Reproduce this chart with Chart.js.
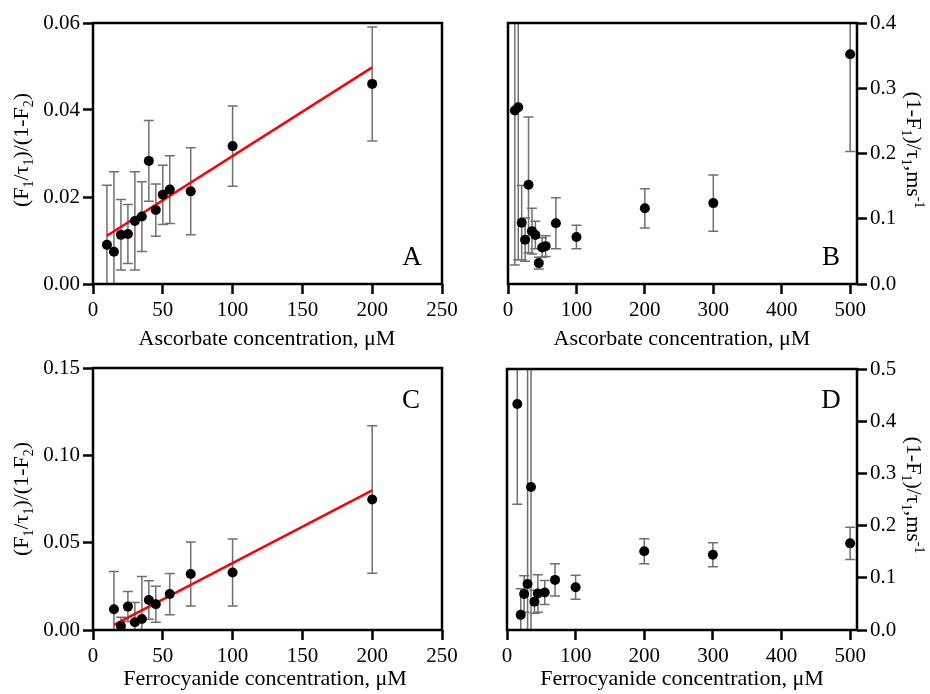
<!DOCTYPE html>
<html>
<head>
<meta charset="utf-8">
<title>Ascorbate / ferrocyanide kinetics</title>
<script src="https://cdn.jsdelivr.net/npm/chart.js@4.4.1/dist/chart.umd.min.js"></script>
<style>
    body { margin: 0; background: #fff; }
    .panel { position: absolute; }
</style>
</head>
<body>
<div class="panel" style="left:0;top:0;width:465px;height:362px"><canvas id="chartA"></canvas></div>
<div class="panel" style="left:465px;top:0;width:465px;height:362px"><canvas id="chartB"></canvas></div>
<div class="panel" style="left:0;top:347px;width:465px;height:347px"><canvas id="chartC"></canvas></div>
<div class="panel" style="left:465px;top:347px;width:465px;height:347px"><canvas id="chartD"></canvas></div>
<script>
// Panel A - ascorbate, (F1/t1)/(1-F2)
const concA = [10, 15, 20, 25, 30, 35, 40, 45, 50, 55, 70, 100, 200];
const ratioA = [0.0090, 0.0074, 0.0113, 0.0115, 0.0145, 0.0155, 0.0283, 0.0170, 0.0205, 0.0217, 0.0213, 0.0317, 0.0460];
const errA = [0.0137, 0.0184, 0.0081, 0.0068, 0.0113, 0.0080, 0.0093, 0.0060, 0.0068, 0.0078, 0.0100, 0.0092, 0.0131];
const fitConcA = [10, 200];
const fitRatioA = [0.0111, 0.0498];

// Panel B - ascorbate, (1-F1)/t1
const concB = [10, 15, 20, 25, 30, 35, 40, 45, 50, 55, 70, 100, 200, 300, 500];
const rateB = [0.266, 0.271, 0.094, 0.068, 0.152, 0.081, 0.075, 0.032, 0.056, 0.058, 0.093, 0.072, 0.116, 0.124, 0.352];
const errB = [0.237, 0.234, 0.057, 0.033, 0.104, 0.035, 0.021, 0.009, 0.015, 0.016, 0.039, 0.018, 0.030, 0.043, 0.149];

// Panel C - ferrocyanide, (F1/t1)/(1-F2)
const concC = [15, 20, 25, 30, 35, 40, 45, 55, 70, 100, 200];
const ratioC = [0.0119, 0.0023, 0.0134, 0.0044, 0.0063, 0.0172, 0.0147, 0.0206, 0.0321, 0.0329, 0.0747];
const errC = [0.0216, 0.0050, 0.0086, 0.0113, 0.0243, 0.0110, 0.0103, 0.0118, 0.0183, 0.0192, 0.0422];
const fitConcC = [15, 200];
const fitRatioC = [0.0029, 0.0799];

// Panel D - ferrocyanide, (1-F1)/t1
const concD = [15, 20, 25, 30, 35, 40, 45, 55, 70, 100, 200, 300, 500];
const rateD = [0.433, 0.029, 0.069, 0.088, 0.274, 0.054, 0.070, 0.072, 0.096, 0.082, 0.151, 0.144, 0.166];
const errD = [0.192, 0.050, 0.035, 0.450, 0.320, 0.022, 0.036, 0.023, 0.031, 0.023, 0.024, 0.023, 0.031];

// tick values
const xTicksShort = [0, 50, 100, 150, 200, 250];
const xTicksLong = [0, 100, 200, 300, 400, 500];
const yTicksA = [0, 0.02, 0.04, 0.06];
const yTicksB = [0, 0.1, 0.2, 0.3, 0.4];
const yTicksC = [0, 0.05, 0.10, 0.15];
const yTicksD = [0, 0.1, 0.2, 0.3, 0.4, 0.5];

// axis titles, split into [text, 'sub' | 'sup' | '']
const ratioTitle = [['(F', ''], ['1', 'sub'], ['/\u03c4', ''], ['1', 'sub'], [')/(1-F', ''], ['2', 'sub'], [')', '']];
const rateTitle = [['(1-F', ''], ['1', 'sub'], [')/\u03c4', ''], ['1', 'sub'], [',ms', ''], ['-1', 'sup']];
const ascTitle = [['Ascorbate concentration, \u03bcM', '']];
const ferroTitle = [['Ferrocyanide concentration, \u03bcM', '']];

const serif = "'Liberation Serif', 'Times New Roman', serif";

// writes a line of text with sub/superscripts, centred on (cx, baseline), optionally rotated
function drawRich(ctx, parts, cx, baseline, angle, size) {
    const small = Math.round(size * 0.64);
    let total = 0;
    parts.forEach(p => {
        ctx.font = (p[1] ? small : size) + 'px ' + serif;
        total += ctx.measureText(p[0]).width;
    });
    ctx.save();
    ctx.translate(cx, baseline);
    ctx.rotate(angle);
    ctx.fillStyle = '#000';
    ctx.textBaseline = 'alphabetic';
    ctx.textAlign = 'left';
    let x = -total / 2;
    parts.forEach(p => {
        ctx.font = (p[1] ? small : size) + 'px ' + serif;
        let dy = 0;
        if (p[1] === 'sub') dy = size * 0.22;
        if (p[1] === 'sup') dy = -size * 0.38;
        ctx.fillText(p[0], x, dy);
        x += ctx.measureText(p[0]).width;
    });
    ctx.restore();
}

const panelDecor = {
    id: 'panelDecor',
    // error bars go under the markers and the fit line
    beforeDatasetsDraw(chart) {
        const { ctx, chartArea, scales } = chart;
        ctx.save();
        ctx.beginPath();
        ctx.rect(chartArea.left, chartArea.top, chartArea.right - chartArea.left, chartArea.bottom - chartArea.top);
        ctx.clip();
        ctx.strokeStyle = '#707070';
        ctx.lineWidth = 1.5;
        chart.data.datasets.forEach(ds => {
            if (!ds.errors) return;
            ds.data.forEach((p, i) => {
                const x = scales.x.getPixelForValue(p.x);
                const yTop = scales.y.getPixelForValue(p.y + ds.errors[i]);
                const yBot = scales.y.getPixelForValue(p.y - ds.errors[i]);
                ctx.beginPath();
                ctx.moveTo(x, yTop);
                ctx.lineTo(x, yBot);
                ctx.moveTo(x - 5, yTop);
                ctx.lineTo(x + 5, yTop);
                ctx.moveTo(x - 5, yBot);
                ctx.lineTo(x + 5, yBot);
                ctx.stroke();
            });
        });
        ctx.restore();
    },
    afterDraw(chart, args, opts) {
        const { ctx, chartArea } = chart;
        // box around the plot
        ctx.save();
        ctx.strokeStyle = '#000';
        ctx.lineWidth = 2.5;
        ctx.strokeRect(chartArea.left, chartArea.top, chartArea.right - chartArea.left, chartArea.bottom - chartArea.top);
        ctx.restore();

        // panel letter
        ctx.save();
        ctx.font = '27px ' + serif;
        ctx.fillStyle = '#000';
        ctx.textAlign = 'center';
        ctx.textBaseline = 'alphabetic';
        ctx.fillText(opts.letter, opts.letterX, opts.letterY);
        ctx.restore();

        drawRich(ctx, opts.xTitle, opts.xTitleX, opts.xTitleY, 0, 22);
        drawRich(ctx, opts.yTitle, opts.yTitleX, opts.yTitleY, opts.yTitleAngle, 22);
    }
};

function makePanel(id, cfg) {
    const points = cfg.conc.map((c, i) => ({ x: c, y: cfg.vals[i] }));
    const datasets = [{
        type: 'scatter',
        data: points,
        errors: cfg.errs,
        pointRadius: 5,
        pointHoverRadius: 5,
        backgroundColor: '#000',
        borderWidth: 0
    }];
    if (cfg.fitConc) {
        datasets.push({
            type: 'line',
            data: cfg.fitConc.map((c, i) => ({ x: c, y: cfg.fitVals[i] })),
            borderColor: '#ff0000',
            borderWidth: 2.5,
            pointRadius: 0,
            fill: false
        });
    }

    const tickFont = { family: serif, size: 21 };

    return new Chart(document.getElementById(id), {
        type: 'scatter',
        data: { datasets: datasets },
        options: {
            responsive: true,
            maintainAspectRatio: false,
            animation: false,
            layout: { padding: cfg.padding },
            plugins: {
                legend: { display: false },
                tooltip: { enabled: false },
                panelDecor: cfg.decor
            },
            scales: {
                x: {
                    type: 'linear',
                    min: 0,
                    max: cfg.xMax,
                    afterBuildTicks: s => { s.ticks = cfg.xTicks.map(v => ({ value: v })); },
                    afterFit: s => { s.height = cfg.xHeight; },
                    ticks: {
                        font: tickFont,
                        color: '#000',
                        padding: 4,
                        maxRotation: 0,
                        autoSkip: false,
                        callback: v => String(v)
                    },
                    grid: { drawOnChartArea: false, tickLength: 10, tickWidth: 2.5, tickColor: '#000' },
                    border: { display: false }
                },
                y: {
                    type: 'linear',
                    position: cfg.yPos,
                    min: 0,
                    max: cfg.yTicks[cfg.yTicks.length - 1],
                    afterBuildTicks: s => { s.ticks = cfg.yTicks.map(v => ({ value: v })); },
                    afterFit: s => { s.width = cfg.yWidth; },
                    ticks: {
                        font: tickFont,
                        color: '#000',
                        padding: 3,
                        autoSkip: false,
                        callback: v => v.toFixed(cfg.yDigits)
                    },
                    grid: { drawOnChartArea: false, tickLength: 10, tickWidth: 2.5, tickColor: '#000' },
                    border: { display: false }
                }
            }
        },
        plugins: [panelDecor]
    });
}

makePanel('chartA', {
    conc: concA, vals: ratioA, errs: errA, fitConc: fitConcA, fitVals: fitRatioA,
    xMax: 250, xTicks: xTicksShort, yTicks: yTicksA, yDigits: 2, yPos: 'left',
    padding: { top: 23, right: 23, left: 0, bottom: 0 }, yWidth: 93, xHeight: 78,
    decor: { letter: 'A', letterX: 412, letterY: 265,
        xTitle: ascTitle, xTitleX: 267, xTitleY: 345,
        yTitle: ratioTitle, yTitleX: 28, yTitleY: 150, yTitleAngle: -Math.PI / 2 }
});

makePanel('chartB', {
    conc: concB, vals: rateB, errs: errB,
    xMax: 510, xTicks: xTicksLong, yTicks: yTicksB, yDigits: 1, yPos: 'right',
    padding: { top: 23, right: 0, left: 43, bottom: 0 }, yWidth: 73, xHeight: 78,
    decor: { letter: 'B', letterX: 366, letterY: 265,
        xTitle: ascTitle, xTitleX: 217, xTitleY: 345,
        yTitle: rateTitle, yTitleX: 442, yTitleY: 150, yTitleAngle: Math.PI / 2 }
});

makePanel('chartC', {
    conc: concC, vals: ratioC, errs: errC, fitConc: fitConcC, fitVals: fitRatioC,
    xMax: 250, xTicks: xTicksShort, yTicks: yTicksC, yDigits: 2, yPos: 'left',
    padding: { top: 21, right: 23, left: 0, bottom: 0 }, yWidth: 93, xHeight: 64,
    decor: { letter: 'C', letterX: 411, letterY: 61,
        xTitle: ferroTitle, xTitleX: 265, xTitleY: 338,
        yTitle: ratioTitle, yTitleX: 28, yTitleY: 152, yTitleAngle: -Math.PI / 2 }
});

makePanel('chartD', {
    conc: concD, vals: rateD, errs: errD,
    xMax: 510, xTicks: xTicksLong, yTicks: yTicksD, yDigits: 1, yPos: 'right',
    padding: { top: 22, right: 0, left: 42, bottom: 0 }, yWidth: 73, xHeight: 64,
    decor: { letter: 'D', letterX: 366, letterY: 61,
        xTitle: ferroTitle, xTitleX: 217, xTitleY: 338,
        yTitle: rateTitle, yTitleX: 442, yTitleY: 148, yTitleAngle: Math.PI / 2 }
});
</script>
</body>
</html>
